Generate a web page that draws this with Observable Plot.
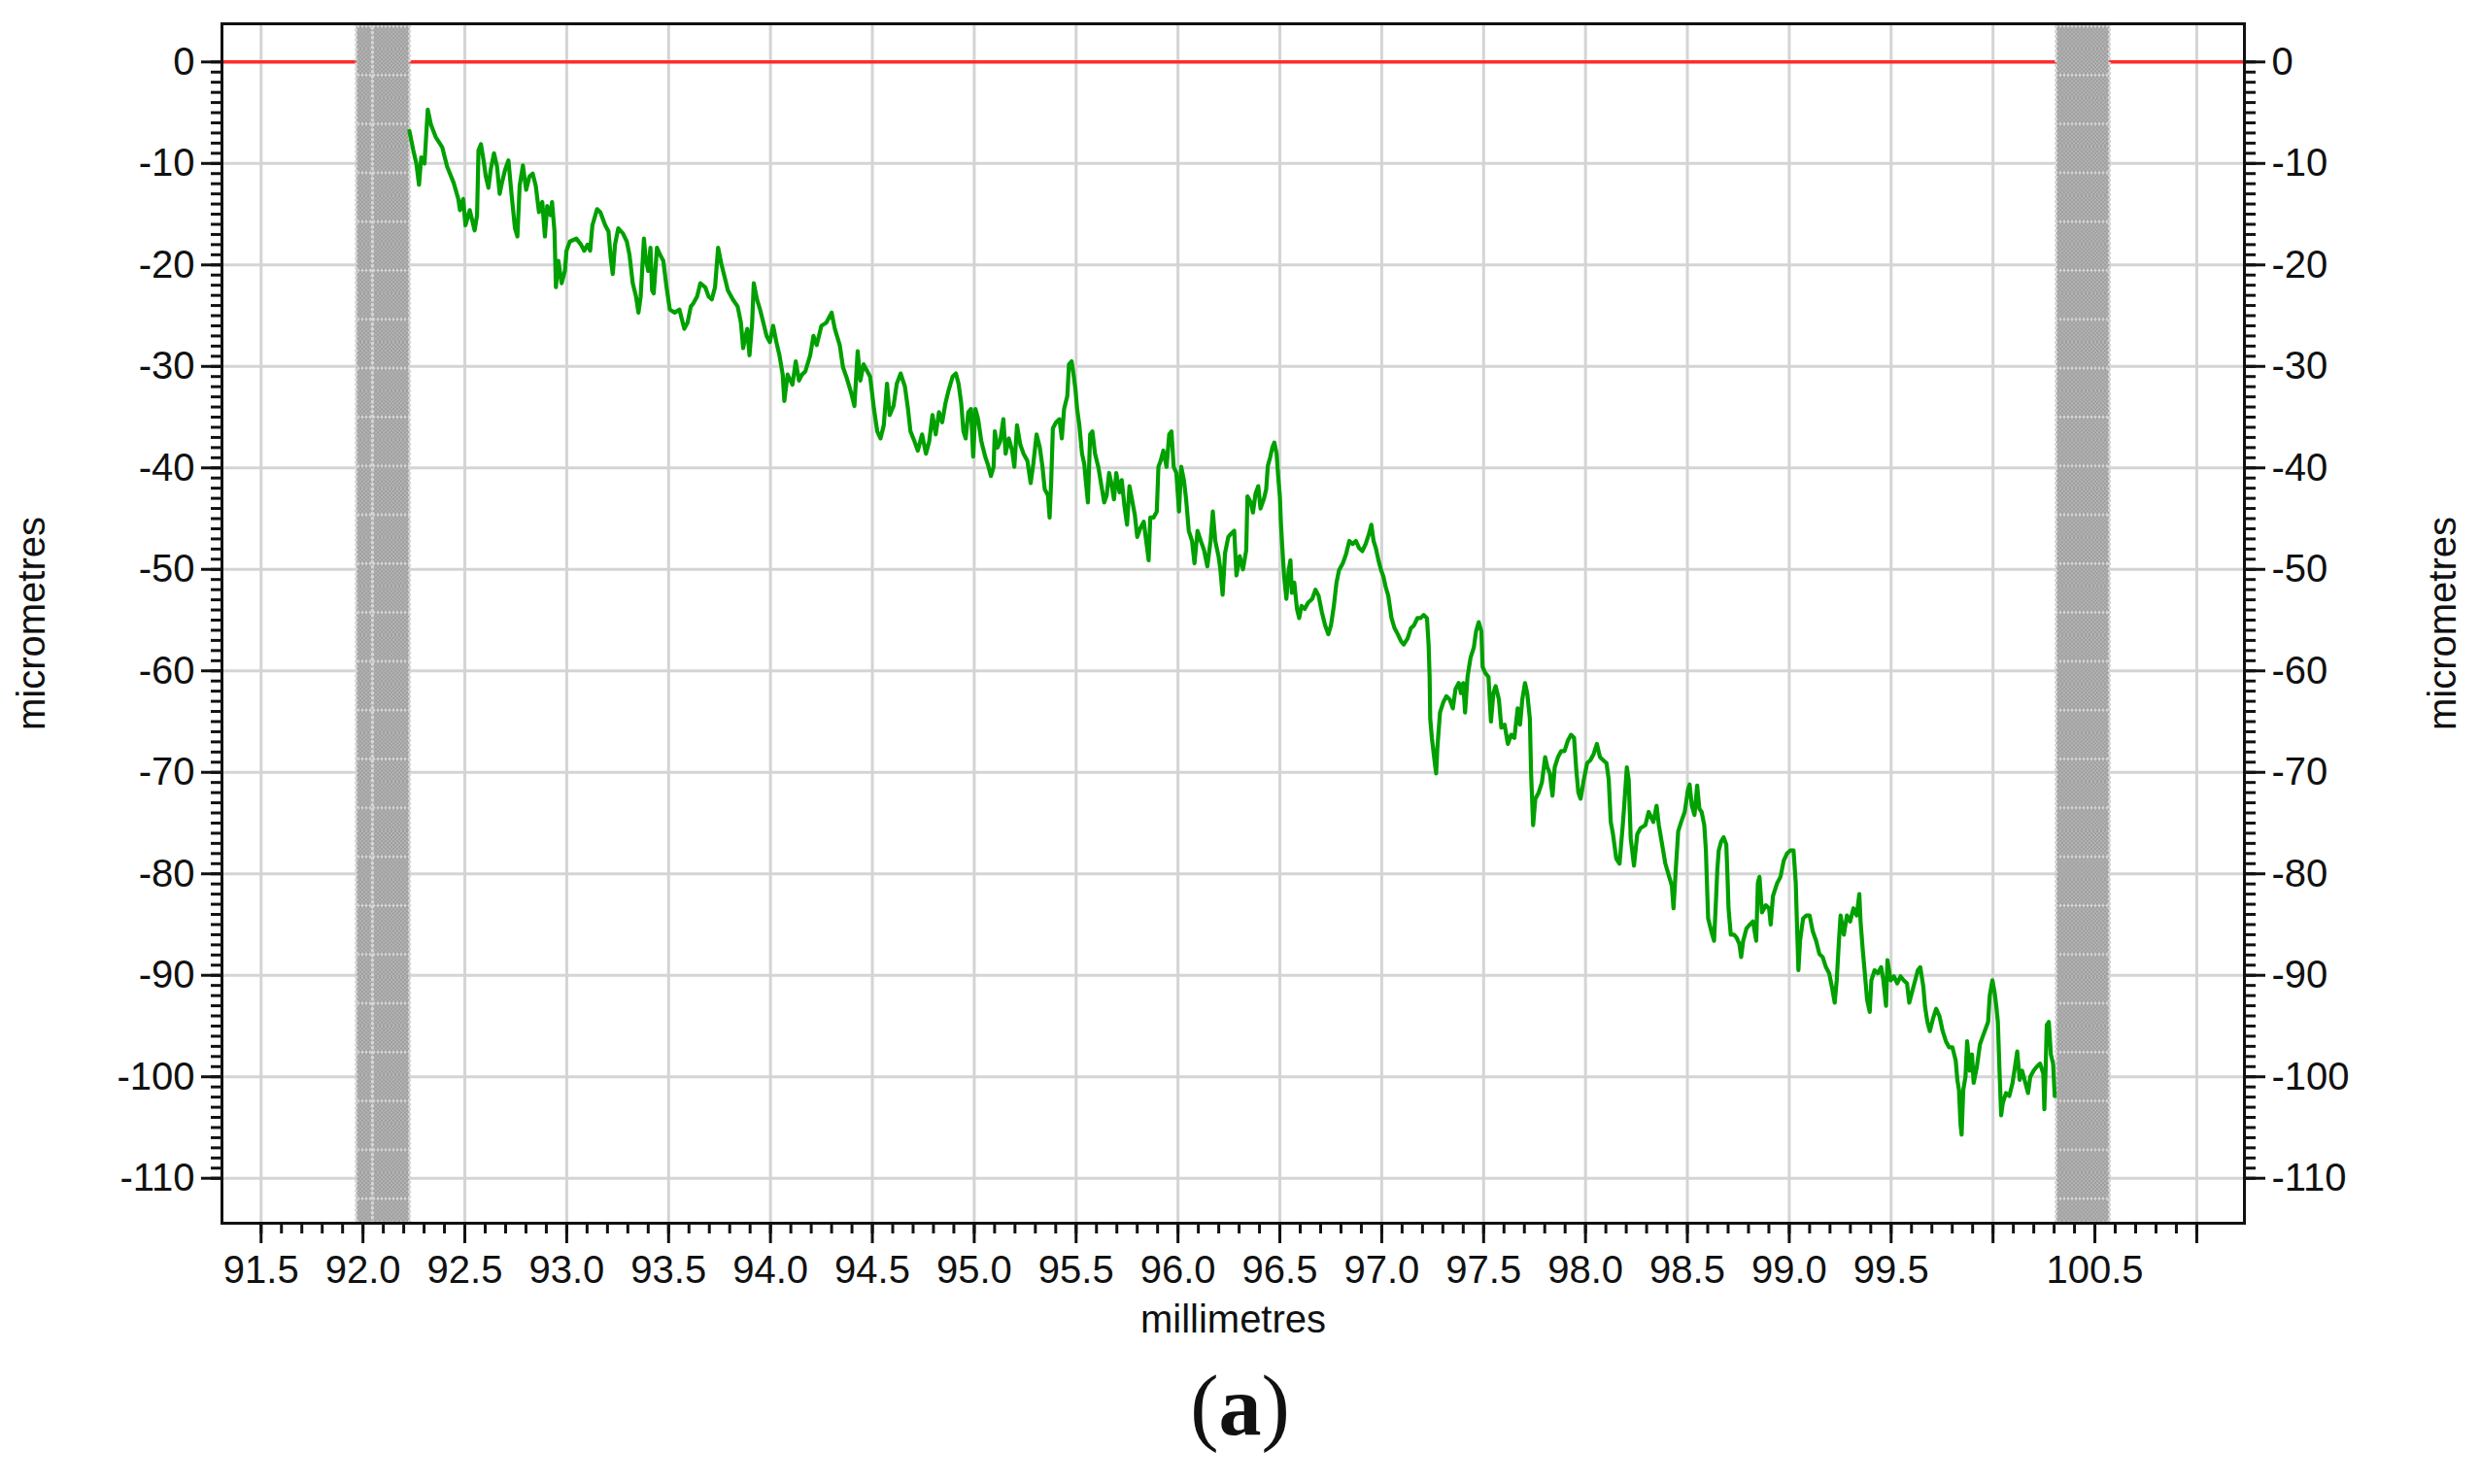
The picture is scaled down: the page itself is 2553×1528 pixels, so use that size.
<!DOCTYPE html>
<html>
<head>
<meta charset="utf-8">
<script src="https://cdn.jsdelivr.net/npm/d3@7"></script>
<script src="https://cdn.jsdelivr.net/npm/@observablehq/plot@0.6"></script>
<style>
  html, body { margin: 0; padding: 0; background: #fff; }
  #chart svg { display: block; }
  #caption { width: 2553px; height: 128px; text-align: center; font-family: "Liberation Serif", "Times New Roman", serif; font-size: 88px; line-height: 96px; color: #111; }
</style>
</head>
<body>
<svg width="0" height="0" style="position:absolute">
  <defs>
    <pattern id="checker" width="4" height="4" patternUnits="userSpaceOnUse">
      <rect width="4" height="4" fill="#9c9c9c"/>
      <rect width="2" height="2" fill="#b6b6b6"/>
      <rect x="2" y="2" width="2" height="2" fill="#b6b6b6"/>
    </pattern>
    <pattern id="bandTex" width="4" height="50.3" patternUnits="userSpaceOnUse">
      <rect width="4" height="50.3" fill="url(#checker)"/>
      <rect x="0" y="26" width="2" height="2" fill="#dedede"/>
    </pattern>
  </defs>
</svg>
<div id="chart"></div>
<div id="caption">(<b>a</b>)</div>
<script>
// Axis configuration
const xDomain = [91.308, 101.234];
const yDomain = [-114.43, 3.76];
const xMajorTicks = [91.5, 92.0, 92.5, 93.0, 93.5, 94.0, 94.5, 95.0, 95.5, 96.0, 96.5, 97.0, 97.5, 98.0, 98.5, 99.0, 99.5, 100.0, 100.5, 101.0];
const xLabelledTicks = [91.5, 92.0, 92.5, 93.0, 93.5, 94.0, 94.5, 95.0, 95.5, 96.0, 96.5, 97.0, 97.5, 98.0, 98.5, 99.0, 99.5, 100.5];
const yMajorTicks = [0, -10, -20, -30, -40, -50, -60, -70, -80, -90, -100, -110];
const xMinorTicks = d3.range(915, 1011).map(d => d / 10);
const yMinorTicks = d3.range(-110, 1);

// Excluded (shaded) regions, millimetres
const bandStart = [91.969, 92.049, 100.312];
const bandEnd   = [92.049, 92.231, 100.574];

// Measured profile: [position (mm), deviation (µm)]
const profilePoints = [
[92.228,-6.8],[92.247,-8.7],[92.262,-10.0],[92.275,-12.1],[92.286,-9.4],[92.302,-10.0],[92.318,-4.7],[92.334,-6.2],[92.357,-7.4],[92.389,-8.4],[92.413,-10.3],[92.445,-11.9],[92.468,-13.5],[92.476,-14.6],[92.492,-13.5],[92.503,-16.1],[92.524,-14.6],[92.548,-16.6],[92.560,-15.1],[92.567,-8.7],[92.579,-8.1],[92.592,-9.7],[92.603,-11.3],[92.616,-12.4],[92.627,-10.6],[92.643,-9.0],[92.658,-10.3],[92.671,-13.0],[92.682,-11.9],[92.698,-10.6],[92.714,-9.7],[92.730,-13.2],[92.746,-16.4],[92.758,-17.2],[92.769,-12.2],[92.785,-10.2],[92.801,-12.6],[92.817,-11.3],[92.833,-11.0],[92.848,-12.2],[92.864,-14.8],[92.880,-13.8],[92.893,-17.2],[92.904,-14.2],[92.920,-15.1],[92.928,-13.8],[92.940,-16.7],[92.947,-22.2],[92.959,-19.6],[92.975,-21.8],[92.991,-20.6],[92.999,-18.6],[93.015,-17.7],[93.047,-17.4],[93.070,-18.0],[93.086,-18.6],[93.102,-18.0],[93.115,-18.6],[93.126,-16.1],[93.149,-14.5],[93.165,-14.8],[93.189,-16.1],[93.205,-16.7],[93.216,-19.3],[93.226,-20.9],[93.237,-18.0],[93.253,-16.4],[93.276,-16.9],[93.295,-17.7],[93.308,-19.0],[93.324,-21.8],[93.340,-23.1],[93.352,-24.7],[93.363,-23.1],[93.379,-17.4],[93.387,-19.3],[93.400,-20.6],[93.411,-18.3],[93.419,-22.5],[93.427,-22.8],[93.443,-18.3],[93.458,-19.0],[93.474,-19.6],[93.490,-22.2],[93.506,-24.4],[93.530,-24.7],[93.553,-24.4],[93.577,-26.3],[93.593,-25.7],[93.609,-24.1],[93.621,-23.8],[93.640,-23.1],[93.656,-21.8],[93.680,-22.2],[93.696,-23.1],[93.712,-23.4],[93.728,-22.2],[93.743,-18.3],[93.759,-19.9],[93.775,-21.2],[93.791,-22.5],[93.815,-23.4],[93.839,-24.1],[93.855,-25.7],[93.866,-28.2],[93.878,-27.0],[93.886,-26.3],[93.897,-28.9],[93.910,-25.7],[93.918,-21.8],[93.934,-23.4],[93.949,-24.4],[93.965,-25.7],[93.981,-27.0],[93.997,-27.6],[94.013,-26.0],[94.029,-27.6],[94.044,-28.9],[94.060,-30.8],[94.068,-33.4],[94.084,-30.8],[94.108,-31.8],[94.124,-29.5],[94.140,-31.4],[94.155,-30.8],[94.171,-30.5],[94.195,-28.9],[94.211,-27.0],[94.227,-27.9],[94.250,-26.0],[94.274,-25.7],
[94.300,-24.7],[94.316,-26.3],[94.340,-27.9],[94.356,-30.1],[94.372,-31.0],[94.396,-32.6],[94.412,-33.9],[94.428,-28.5],[94.441,-31.4],[94.457,-29.8],[94.473,-30.4],[94.489,-31.0],[94.508,-34.2],[94.524,-36.4],[94.540,-37.1],[94.556,-35.8],[94.572,-31.7],[94.585,-34.8],[94.604,-33.9],[94.620,-31.7],[94.639,-30.7],[94.660,-32.0],[94.675,-34.2],[94.687,-36.4],[94.707,-37.4],[94.723,-38.3],[94.744,-36.7],[94.763,-38.6],[94.779,-37.4],[94.795,-34.8],[94.811,-36.7],[94.827,-34.5],[94.843,-35.5],[94.859,-33.6],[94.875,-32.3],[94.894,-31.0],[94.910,-30.7],[94.923,-31.7],[94.936,-33.6],[94.947,-36.4],[94.958,-37.1],[94.971,-34.5],[94.984,-34.2],[94.995,-38.9],[95.006,-34.2],[95.019,-35.2],[95.035,-37.4],[95.054,-38.9],[95.066,-39.6],[95.082,-40.8],[95.095,-39.9],[95.101,-36.4],[95.114,-38.0],[95.127,-37.4],[95.143,-35.2],[95.154,-38.6],[95.170,-37.1],[95.186,-38.3],[95.197,-39.9],[95.210,-35.8],[95.226,-37.7],[95.242,-38.6],[95.261,-39.3],[95.277,-41.5],[95.290,-39.6],[95.306,-36.7],[95.322,-38.0],[95.335,-39.9],[95.346,-42.1],[95.362,-42.7],[95.370,-44.9],[95.378,-41.2],[95.386,-36.1],[95.402,-35.5],[95.418,-35.2],[95.430,-37.1],[95.441,-34.2],[95.457,-32.9],[95.465,-29.8],[95.478,-29.5],[95.489,-31.0],[95.497,-32.3],[95.505,-34.2],[95.516,-35.8],[95.529,-38.6],[95.540,-39.6],[95.550,-41.8],[95.558,-43.4],[95.569,-36.7],[95.580,-36.4],[95.593,-38.6],[95.609,-39.9],[95.622,-41.5],[95.638,-43.4],[95.650,-42.7],[95.662,-40.5],[95.673,-41.5],[95.686,-43.1],[95.697,-40.5],[95.713,-42.4],[95.724,-41.2],[95.737,-43.7],[95.750,-45.6],[95.762,-41.8],[95.777,-43.4],[95.788,-44.6],[95.800,-46.8],[95.816,-45.9],[95.832,-45.3],[95.848,-47.8],[95.856,-49.1],[95.864,-44.9],[95.880,-44.9],[95.896,-44.3],[95.904,-39.9],[95.915,-39.3],[95.928,-38.3],[95.944,-39.9],[95.957,-36.7],[95.968,-36.4],[95.979,-39.9],[95.992,-40.5],[96.005,-44.3],[96.016,-39.9],[96.029,-41.2],[96.040,-43.1],[96.053,-46.2],[96.069,-47.2],[96.081,-49.4],[96.096,-46.2],[96.112,-47.2],[96.128,-48.1],[96.144,-49.7],[96.160,-47.2],[96.171,-44.3],[96.183,-47.2],[96.199,-48.7],[96.208,-50.0],[96.219,-52.5],[96.231,-48.4],[96.247,-46.8],[96.260,-46.5],[96.276,-46.2],[96.287,-50.6],[96.303,-48.7],[96.319,-50.0],[96.335,-48.1],
[96.341,-42.8],[96.357,-43.4],[96.368,-44.4],[96.381,-42.5],[96.394,-41.8],[96.405,-44.0],[96.421,-43.1],[96.433,-42.1],[96.441,-39.8],[96.452,-39.0],[96.463,-38.0],[96.473,-37.5],[96.484,-38.6],[96.492,-40.9],[96.500,-42.8],[96.505,-45.3],[96.511,-47.5],[96.521,-50.7],[96.532,-52.9],[96.543,-50.1],[96.552,-49.1],[96.559,-52.3],[96.571,-51.3],[96.584,-53.9],[96.595,-54.8],[96.606,-53.6],[96.622,-53.9],[96.638,-53.3],[96.659,-52.9],[96.675,-52.0],[96.690,-52.6],[96.706,-54.2],[96.722,-55.5],[96.738,-56.4],[96.751,-55.5],[96.765,-53.6],[96.778,-51.3],[96.790,-50.1],[96.809,-49.4],[96.825,-48.5],[96.841,-47.2],[96.857,-47.5],[96.873,-47.2],[96.889,-47.9],[96.905,-48.2],[96.921,-47.5],[96.936,-46.6],[96.949,-45.6],[96.960,-47.2],[96.971,-47.9],[96.984,-49.1],[96.997,-50.1],[97.008,-50.7],[97.019,-51.7],[97.032,-52.6],[97.048,-54.8],[97.063,-55.8],[97.079,-56.4],[97.095,-57.1],[97.108,-57.4],[97.127,-56.8],[97.143,-55.8],[97.159,-55.5],[97.175,-54.8],[97.190,-54.8],[97.206,-54.5],[97.222,-54.8],[97.230,-57.4],[97.235,-60.6],[97.238,-64.7],[97.246,-66.6],[97.257,-68.5],[97.267,-70.1],[97.273,-67.6],[97.286,-64.1],[97.302,-63.1],[97.317,-62.5],[97.333,-62.8],[97.349,-63.7],[97.362,-61.8],[97.378,-61.2],[97.389,-62.2],[97.400,-61.2],[97.409,-64.1],[97.421,-60.6],[97.436,-58.7],[97.452,-57.7],[97.463,-56.1],[97.476,-55.2],[97.489,-56.1],[97.495,-59.6],[97.508,-60.2],[97.524,-60.6],[97.536,-65.0],[97.548,-62.2],[97.559,-61.5],[97.575,-62.8],[97.587,-65.6],[97.603,-65.3],[97.619,-67.2],[97.635,-66.3],[97.651,-66.6],[97.667,-63.7],[97.679,-65.3],[97.690,-62.8],[97.703,-61.2],[97.714,-62.2],[97.727,-64.7],[97.733,-70.1],[97.743,-75.2],[97.754,-72.6],[97.770,-72.0],[97.786,-71.0],[97.802,-68.5],[97.813,-69.5],[97.825,-70.1],[97.838,-72.3],[97.849,-69.5],[97.865,-68.5],[97.881,-67.9],[97.897,-67.9],[97.913,-66.9],[97.929,-66.3],[97.944,-66.6],[97.955,-69.8],[97.965,-72.0],[97.976,-72.6],[97.992,-70.7],[98.008,-69.1],[98.024,-68.8],[98.040,-68.2],[98.056,-67.2],[98.071,-68.5],[98.087,-68.8],[98.103,-69.1],[98.114,-70.7],[98.124,-74.9],[98.135,-76.1],[98.151,-78.5],[98.167,-79.0],[98.183,-75.2],[98.190,-73.3],[98.203,-69.5],[98.212,-70.7],[98.222,-76.5],[98.238,-79.2],[98.254,-76.1],[98.270,-75.5],[98.294,-75.2],[98.310,-73.9],[98.333,-74.9],[98.349,-73.3],
[98.360,-75.2],[98.376,-77.1],[98.392,-79.0],[98.411,-80.3],[98.424,-81.2],[98.432,-83.4],[98.443,-79.6],[98.455,-75.8],[98.471,-74.8],[98.487,-73.9],[98.503,-71.7],[98.511,-71.2],[98.522,-73.3],[98.535,-74.2],[98.548,-71.3],[98.559,-73.6],[98.570,-73.9],[98.583,-75.2],[98.591,-77.7],[98.596,-80.9],[98.602,-84.4],[98.618,-85.7],[98.631,-86.6],[98.640,-82.8],[98.647,-79.6],[98.654,-77.7],[98.666,-76.8],[98.678,-76.4],[98.691,-77.1],[98.697,-80.3],[98.702,-83.4],[98.713,-86.0],[98.729,-86.0],[98.742,-86.3],[98.755,-86.9],[98.764,-88.2],[98.774,-86.6],[98.790,-85.4],[98.806,-85.0],[98.822,-84.7],[98.838,-86.6],[98.846,-80.9],[98.854,-80.3],[98.866,-83.8],[98.885,-83.1],[98.901,-83.4],[98.909,-85.0],[98.920,-82.2],[98.941,-80.9],[98.957,-80.3],[98.973,-78.7],[98.989,-78.0],[99.005,-77.7],[99.021,-77.7],[99.032,-80.9],[99.038,-85.0],[99.045,-89.5],[99.053,-86.6],[99.068,-84.4],[99.084,-84.1],[99.100,-84.1],[99.116,-85.7],[99.132,-86.6],[99.148,-87.9],[99.164,-88.2],[99.180,-89.2],[99.196,-89.8],[99.209,-91.1],[99.223,-92.7],[99.233,-90.5],[99.244,-86.6],[99.252,-84.1],[99.268,-86.0],[99.283,-84.1],[99.299,-84.7],[99.315,-83.4],[99.331,-84.1],[99.344,-82.0],[99.350,-84.7],[99.360,-87.3],[99.371,-89.8],[99.382,-92.4],[99.395,-93.6],[99.403,-90.5],[99.419,-89.5],[99.435,-89.8],[99.451,-89.2],[99.462,-90.5],[99.475,-93.0],[99.482,-88.5],[99.498,-90.5],[99.514,-90.1],[99.530,-90.8],[99.546,-90.1],[99.562,-90.5],[99.578,-90.8],[99.589,-92.7],[99.602,-91.7],[99.618,-90.5],[99.631,-89.5],[99.643,-89.2],[99.658,-91.1],[99.666,-93.0],[99.678,-94.6],[99.690,-95.5],[99.705,-94.3],[99.721,-93.3],[99.737,-94.0],[99.753,-95.5],[99.769,-96.5],[99.785,-97.1],[99.801,-97.1],[99.817,-98.4],[99.825,-100.3],[99.833,-101.3],[99.841,-104.8],[99.846,-105.7],[99.854,-101.3],[99.865,-100.0],[99.873,-96.5],[99.886,-99.4],[99.897,-97.8],[99.905,-100.6],[99.921,-99.0],[99.936,-96.8],[99.952,-95.9],[99.965,-95.2],[99.976,-94.6],[99.984,-92.0],[99.997,-90.5],[100.008,-91.7],[100.016,-93.0],[100.024,-94.6],[100.032,-99.4],[100.040,-103.8],[100.048,-102.6],[100.064,-101.6],[100.080,-101.9],[100.096,-100.6],[100.108,-99.0],[100.119,-97.5],[100.131,-100.3],[100.143,-99.4],[100.159,-100.6],[100.172,-101.6],[100.183,-100.0],[100.199,-99.4],[100.215,-99.0],[100.231,-98.7],[100.247,-99.7],[100.252,-103.2],[100.258,-99.4],[100.264,-94.9],[100.274,-94.6],[100.284,-97.8],[100.295,-98.7],[100.303,-101.9]
];

const xAxisTitle = "millimetres";
const yAxisTitle = "micrometres";

const bands = bandStart.map((s, i) => ({start: s, end: bandEnd[i]}));
const profile = profilePoints.map(([x, y]) => ({x, y}));
const ink = "#111";

const chart = Plot.plot({
  width: 2553,
  height: 1400,
  marginTop: 24,
  marginRight: 243,
  marginBottom: 141,
  marginLeft: 228,
  style: {background: "#fff", fontFamily: '"Liberation Sans", Arial, sans-serif', fontSize: "40px", color: ink},
  x: {domain: xDomain, label: null},
  y: {domain: yDomain, label: null},
  marks: [
    Plot.gridX(xMajorTicks, {stroke: "#d4d4d4", strokeOpacity: 1, strokeWidth: 3}),
    Plot.gridY(yMajorTicks, {stroke: "#d4d4d4", strokeOpacity: 1, strokeWidth: 3}),
    Plot.ruleY([0], {stroke: "#ff2b2b", strokeWidth: 3.5}),
    Plot.rectX(bands, {x1: "start", x2: "end", fill: "url(#bandTex)", stroke: "#d6d6d6", strokeWidth: 3, strokeDasharray: "3,2"}),
    Plot.line(profile, {x: "x", y: "y", stroke: "#00a000", strokeWidth: 4.2, strokeLinejoin: "round"}),
    Plot.frame({stroke: ink, strokeWidth: 3}),
    Plot.axisX(xMajorTicks, {anchor: "bottom", tickSize: 21, tickPadding: 12, strokeWidth: 3, stroke: ink, fill: ink, label: null,
      tickFormat: d => xLabelledTicks.includes(d) ? d.toFixed(1) : ""}),
    Plot.axisX(xMinorTicks, {anchor: "bottom", tickSize: 11, strokeWidth: 3, stroke: ink, fill: "none", label: null}),
    Plot.axisY(yMajorTicks, {anchor: "left", tickSize: 21, tickPadding: 7, strokeWidth: 3, stroke: ink, fill: ink, label: null, tickFormat: d => String(d)}),
    Plot.axisY(yMinorTicks, {anchor: "left", tickSize: 11, strokeWidth: 3, stroke: ink, fill: "none", label: null}),
    Plot.axisY(yMajorTicks, {anchor: "right", tickSize: 21, tickPadding: 7, strokeWidth: 3, stroke: ink, fill: ink, label: null, tickFormat: d => String(d)}),
    Plot.axisY(yMinorTicks, {anchor: "right", tickSize: 11, strokeWidth: 3, stroke: ink, fill: "none", label: null}),
    Plot.text([xAxisTitle], {text: d => d, frameAnchor: "bottom", textAnchor: "middle", lineAnchor: "middle", dy: 100, fill: ink, fontSize: 40}),
    Plot.text([yAxisTitle], {text: d => d, frameAnchor: "left", textAnchor: "middle", lineAnchor: "middle", dx: -195, rotate: -90, fill: ink, fontSize: 40}),
    Plot.text([yAxisTitle], {text: d => d, frameAnchor: "right", textAnchor: "middle", lineAnchor: "middle", dx: 205, rotate: -90, fill: ink, fontSize: 40})
  ]
});
document.getElementById("chart").appendChild(chart);
</script>
</body>
</html>
